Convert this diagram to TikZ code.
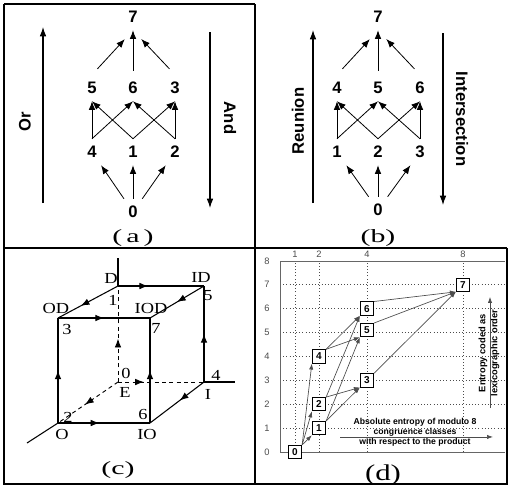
\documentclass[tikz,border=0pt]{standalone}
\usepackage{fontspec}
\setmainfont{Liberation Serif}
\setsansfont{Liberation Sans}
\newfontfamily\capfont[FakeStretch=1.6]{Liberation Serif}
\newfontfamily\cubefont[FakeStretch=1.2]{Liberation Serif}
\usetikzlibrary{arrows.meta,decorations.markings}

\tikzset{
  num/.style={rectangle, inner sep=0pt, minimum width=14pt, minimum height=19.5pt, font=\sffamily\bfseries\fontsize{12.5}{13}\selectfont},
  link/.style={-{Latex[length=6.5pt,width=5pt]}, line width=0.6pt},
  toplink/.style={link, shorten <=6pt, shorten >=9pt},
  side/.style={-{Latex[length=7pt,width=5pt]}, line width=0.8pt},
  sidetext/.style={font=\sffamily\bfseries\fontsize{12.5}{14}\selectfont, inner sep=0pt},
  captext/.style={font=\capfont\fontsize{14}{16}\selectfont, inner sep=0pt},
  cubeline/.style={line width=0.8pt},
  arrowat/.style={postaction={decorate}, decoration={markings, mark=at position #1 with {\arrow{Latex[length=6.5pt,width=5pt]}}}},
  cubetext/.style={font=\cubefont\fontsize{11.5}{12}\selectfont, inner sep=0pt},
  box/.style={draw, fill=white, inner sep=0pt, minimum size=10pt, line width=0.7pt, font=\sffamily\bfseries\fontsize{7.5}{8}\selectfont},
  plink/.style={-{Latex[length=4.5pt,width=3.2pt]}, line width=0.5pt, black!70},
  ticklab/.style={font=\sffamily\fontsize{7}{7}\selectfont, text=black!70, inner sep=0pt},
  notetext/.style={font=\sffamily\bfseries\fontsize{6.5}{7.5}\selectfont, align=center, inner sep=0pt}
}

\begin{document}
\begin{tikzpicture}[x=0.75pt,y=-0.75pt]
\useasboundingbox (0,0) rectangle (510,487);
% Moldura
\draw[line width=1.1pt] (4,4) -- (255,4);
\draw[line width=1.1pt] (4,4) -- (4,484) -- (507,484) -- (507,248);
\draw[line width=1.1pt] (255,4) -- (255,484);
\draw[line width=1.1pt] (4,248) -- (507,248);

% (a)
\node[num] (a7) at (133,17) {7};
\node[num] (a5) at (92,88) {5};
\node[num] (a6) at (133,88) {6};
\node[num] (a3) at (175,88) {3};
\node[num] (a4) at (92,152) {4};
\node[num] (a1) at (133,152) {1};
\node[num] (a2) at (175,152) {2};
\node[num] (a0) at (133,212) {0};
\foreach \t in {a4,a1,a2} \draw[link] (a0) -- (\t);
\draw[link] (a4.north) -- (a5.south);
\draw[link] (a4.north) -- (a6.south);
\draw[link] (a1.north) -- (a5.south);
\draw[link] (a1.north) -- (a3.south);
\draw[link] (a2.north) -- (a6.south);
\draw[link] (a2.north) -- (a3.south);
\draw[toplink] (a5.north) -- (a7.south);
\draw[link, shorten <=3pt] (a6.north) -- (a7.south);
\draw[toplink] (a3.north) -- (a7.south);
\coordinate (orlo) at (43,203);
\coordinate (orhi) at (43,27);
\draw[side] (orlo) -- (orhi); % Or
\node[sidetext, rotate=90] (orlab) at (25,122) {Or};
\coordinate (andhi) at (210,32);
\coordinate (andlo) at (210,208);
\draw[side] (andhi) -- (andlo); % And
\node[sidetext, rotate=-90] (andlab) at (230,118) {And};
\node[captext] (capa) at (133,238) {(\hspace{3pt}a\hspace{3pt})};

% (b)
\node[num] (b7) at (378,17) {7};
\node[num] (b4) at (337,88) {4};
\node[num] (b5) at (378,88) {5};
\node[num] (b6) at (420,88) {6};
\node[num] (b1) at (337,152) {1};
\node[num] (b2) at (378,152) {2};
\node[num] (b3) at (420,152) {3};
\node[num] (b0) at (378,210) {0};
\foreach \t in {b1,b2,b3} \draw[link] (b0) -- (\t);
\draw[link] (b1.north) -- (b4.south);
\draw[link] (b1.north) -- (b5.south);
\draw[link] (b2.north) -- (b4.south);
\draw[link] (b2.north) -- (b6.south);
\draw[link] (b3.north) -- (b5.south);
\draw[link] (b3.north) -- (b6.south);
\draw[toplink] (b4.north) -- (b7.south);
\draw[link, shorten <=3pt] (b5.north) -- (b7.south);
\draw[toplink] (b6.north) -- (b7.south);
\coordinate (relo) at (313,203);
\coordinate (rehi) at (313,30);
\draw[side] (relo) -- (rehi); % Reunion
\node[sidetext, rotate=90] (relab) at (298,121) {Reunion};
\coordinate (inhi) at (443,33);
\coordinate (inlo) at (443,205);
\draw[side] (inhi) -- (inlo); % Intersection
\node[sidetext, rotate=-90] (inlab) at (462,119) {Intersection};
\node[captext] (capb) at (378,238) {(b)};

% (c) cubo
\coordinate (cO) at (58,423);
\coordinate (cIO) at (150,423);
\coordinate (cOD) at (58,318);
\coordinate (cIOD) at (150,318);
\coordinate (cD) at (118,286);
\coordinate (cID) at (204,286);
\coordinate (cE) at (118,382);
\coordinate (cI) at (204,382);
\coordinate (cZ) at (118,258);
\coordinate (cX) at (235,382);
\coordinate (cY) at (27,443);
\draw[cubeline] (cD) -- (cZ);
\draw[cubeline] (cI) -- (cX);
\draw[cubeline] (cO) -- (cY);
\draw[line width=0.7pt, dash pattern=on 3pt off 2.5pt, arrowat=0.45] (cE) -- (cD);
\draw[line width=0.7pt, dash pattern=on 3pt off 2.5pt, arrowat=0.3] (cE) -- (cI);
\draw[line width=0.7pt, dash pattern=on 3pt off 2.5pt, arrowat=0.55] (cE) -- (cO);
\draw[cubeline, arrowat=0.5] (cO) -- (cOD);
\draw[cubeline, arrowat=0.5] (cIO) -- (cIOD);
\draw[cubeline, arrowat=0.5] (cI) -- (cID);
\draw[cubeline, arrowat=0.5] (cOD) -- (cIOD);
\draw[cubeline, arrowat=0.45] (cO) -- (cIO);
\draw[cubeline, arrowat=0.35] (cD) -- (cID);
\draw[cubeline, arrowat=0.62] (cD) -- (cOD);
\draw[cubeline, arrowat=0.5] (cID) -- (cIOD);
\draw[cubeline, arrowat=0.45] (cI) -- (cIO);
\node[cubetext] (tD) at (111,278) {D};
\node[cubetext] (t1) at (113,300) {1};
\node[cubetext] (tOD) at (56,308) {OD};
\node[cubetext] (t3) at (67,329) {3};
\node[cubetext] (tIOD) at (151,308) {IOD};
\node[cubetext] (t7) at (156,328) {7};
\node[cubetext] (tID) at (201,277) {ID};
\node[cubetext] (t5) at (208,296) {5};
\node[cubetext] (t0) at (126,373) {0};
\node[cubetext] (tE) at (125,392) {E};
\node[cubetext] (t4) at (216,375) {4};
\node[cubetext] (tI) at (208,394) {I};
\node[cubetext] (t2) at (68,417) {2};
\node[cubetext] (t6) at (143,414) {6};
\node[cubetext] (tO) at (62,434) {O};
\node[cubetext] (tIO) at (147,434) {IO};
\node[captext] (capc) at (118,470) {(c)};

% (d) entropia
\begin{scope}[shift={(271,452)}, x=18pt, y=17.925pt]
\foreach \y in {1,...,7} \draw[dotted, black!70] (0.375,\y) -- (9.75,\y);
\foreach \x in {1,2,4,8} \draw[dotted, black!70] (\x,0) -- (\x,8);
\draw[black!60] (0.375,8) -- (9.75,8);
\draw[black!60] (0.375,0) -- (9.75,0);
\draw[black!60] (0.375,0) -- (0.375,8);
\foreach \y in {0,...,8} \node[ticklab] at (-0.17,\y) {\y};
\foreach \x in {1,2,4,8} \node[ticklab] at (\x,8.28) {\x};
\node[box] (d0) at (1,0) {0};
\node[box] (d1) at (2,1) {1};
\node[box] (d2) at (2,2) {2};
\node[box] (d4) at (2,4) {4};
\node[box] (d3) at (4,3) {3};
\node[box] (d5) at (4,5.1) {5};
\node[box] (d6) at (4,6) {6};
\node[box] (d7) at (8,7) {7};
\foreach \t in {d1,d2,d4} \draw[plink] (d0.north east) -- (\t.south west);
\draw[plink] (d1.north east) -- (d3.south west);
\draw[plink] (d1.north east) -- (d5.south west);
\draw[plink] (d2.north east) -- (d3.south west);
\draw[plink] (d2.north east) -- (d6.south west);
\draw[plink] (d4.north east) -- (d5.south west);
\draw[plink] (d4.north east) -- (d6.south west);
\foreach \s in {d3,d5,d6} \draw[plink] (\s.north east) -- (d7.south west);
\node[notetext] (dprod) at (6,0.84) {Absolute entropy of modulo 8\\congruence classes\\with respect to the product};
\coordinate (hlo) at (2.875,0.63);
\coordinate (hhi) at (9.25,0.63);
\draw[plink] (hlo) -- (hhi);
\node[notetext, font=\sffamily\bfseries\fontsize{7}{9}\selectfont, rotate=90] (dlex) at (9.08,4.14) {Entropy coded as\\lexicographic order};
\coordinate (vlo) at (9.125,1.84);
\coordinate (vhi) at (9.125,6.49);
\draw[plink] (vlo) -- (vhi);
\end{scope}
\node[captext, font=\capfont\fontsize{17}{19}\selectfont, xscale=0.85] (capd) at (383,475) {(d)};
\end{tikzpicture}
\end{document}
